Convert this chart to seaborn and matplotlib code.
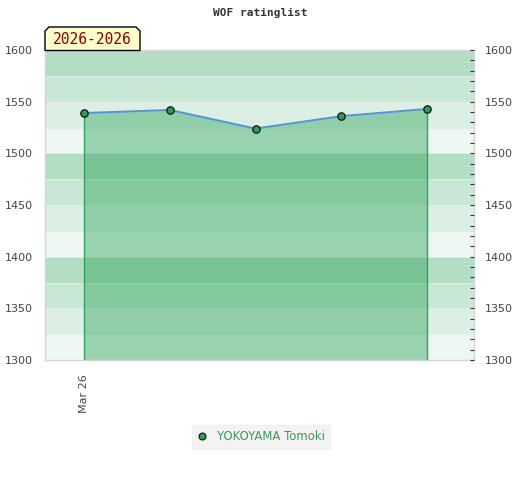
import matplotlib
matplotlib.use("Agg")
import matplotlib.pyplot as plt
import seaborn as sns
import pandas as pd
import numpy as np
from matplotlib.patches import Polygon
from matplotlib.ticker import MultipleLocator, FixedLocator
from matplotlib.lines import Line2D

# ---- data ----
title = "WOF ratinglist"
period_label = "2026-2026"
player = "YOKOYAMA Tomoki"
positions = [0, 1, 2, 3, 4]
ratings = [1539, 1542, 1524, 1536, 1543]
x_tick_positions = [0]
x_tick_labels = ["Mar 26"]
y_min, y_max = 1300, 1600

df = pd.DataFrame({"pos": positions, "rating": ratings})

sns.set_style("white")
plt.rcParams['font.family'] = ['DejaVu Sans']

W, H = 520, 480
fig = plt.figure(figsize=(W / 100, H / 100), dpi=100)
ax = fig.add_axes([45 / W, 120 / H, 429 / W, 310 / H])

# background bands (period 100, 4 shades)
band_cols = ["#eef7f2", "#dcefe4", "#c9e7d5", "#b3dec4"]
for lo in range(y_min, y_max, 25):
    k = ((lo - y_min) // 25) % 4
    ax.axhspan(lo, lo + 25, color=band_cols[k], lw=0, zorder=0)
for lo in range(y_min + 25, y_max, 25):
    ax.axhline(lo, color="#e2ebe5", lw=0.7, zorder=0.5)

# filled area
ax.fill_between(df["pos"], df["rating"], y_min, facecolor="#33a65c", alpha=0.45,
                lw=0, zorder=1)
ax.plot([positions[0], positions[0]], [y_min, ratings[0]], color="#2ca25f", lw=1, zorder=2)
ax.plot([positions[-1], positions[-1]], [y_min, ratings[-1]], color="#2ca25f", lw=1, zorder=2)

sns.lineplot(data=df, x="pos", y="rating", ax=ax, color="#4f97d6", lw=1.4, zorder=3,
             legend=False)
sns.scatterplot(data=df, x="pos", y="rating", ax=ax, color="#2e9e55", edgecolor="#111111",
                linewidth=0.9, s=28, zorder=4, legend=False)

ax.set_xlim(-0.455, 4.548)
ax.set_ylim(y_min, y_max)
ax.set_xlabel("")
ax.set_ylabel("")

ax.xaxis.set_major_locator(FixedLocator(x_tick_positions))
ax.set_xticklabels(x_tick_labels, rotation=90, fontsize=8, color="#444444")
ax.tick_params(axis="x", length=0, pad=10)
ax.yaxis.set_major_locator(MultipleLocator(50))
ax.tick_params(axis="y", length=0, pad=9, labelsize=8, labelcolor="#444444")

for s in ax.spines.values():
    s.set_color("#d4d4d4")
    s.set_linewidth(1)

ax2 = ax.twinx()
ax2.set_ylim(y_min, y_max)
ax2.yaxis.set_major_locator(MultipleLocator(50))
ax2.yaxis.set_minor_locator(MultipleLocator(10))
ax2.tick_params(axis="y", which="major", direction="in", length=3, width=0.8,
                color="#333333", pad=8, labelsize=8, labelcolor="#444444")
ax2.tick_params(axis="y", which="minor", direction="in", length=3, width=0.8,
                color="#333333")
for s in ax2.spines.values():
    s.set_visible(False)

# title
fig.text(260 / W, 1 - 13 / H, title, ha="center", va="center",
         family="DejaVu Sans Mono", fontweight="bold", fontsize=8, color="#333333")

# period label box with chamfered top corners
pts = [(45, 50.5), (45, 31), (49, 27), (136, 27), (140, 31), (140, 50.5)]
poly = Polygon([(x / W, 1 - y / H) for x, y in pts], closed=True, transform=fig.transFigure,
               facecolor="#ffffcc", edgecolor="#000000", lw=1, zorder=10)
fig.patches.append(poly)
fig.text(92.5 / W, 1 - 40 / H, period_label, ha="center", va="center",
         family="DejaVu Sans Mono", fontsize=10.5, color="#8b0000", zorder=11)

# legend
handle = Line2D([], [], marker="o", ls="none", markersize=5, markerfacecolor="#2e9e55",
                markeredgecolor="#111111", markeredgewidth=0.8)
leg = fig.legend([handle], [player], loc="center", bbox_to_anchor=(261 / W, 1 - 437 / H),
                 frameon=True, fancybox=False, fontsize=8.4, handlelength=0.8,
                 handletextpad=0.9, borderpad=0.45, borderaxespad=0)
leg.get_frame().set_facecolor("#f0f0f0")
leg.get_frame().set_edgecolor("#f0f0f0")
for t in leg.get_texts():
    t.set_color("#3a9a5a")

fig.savefig("out.png", dpi=100)
